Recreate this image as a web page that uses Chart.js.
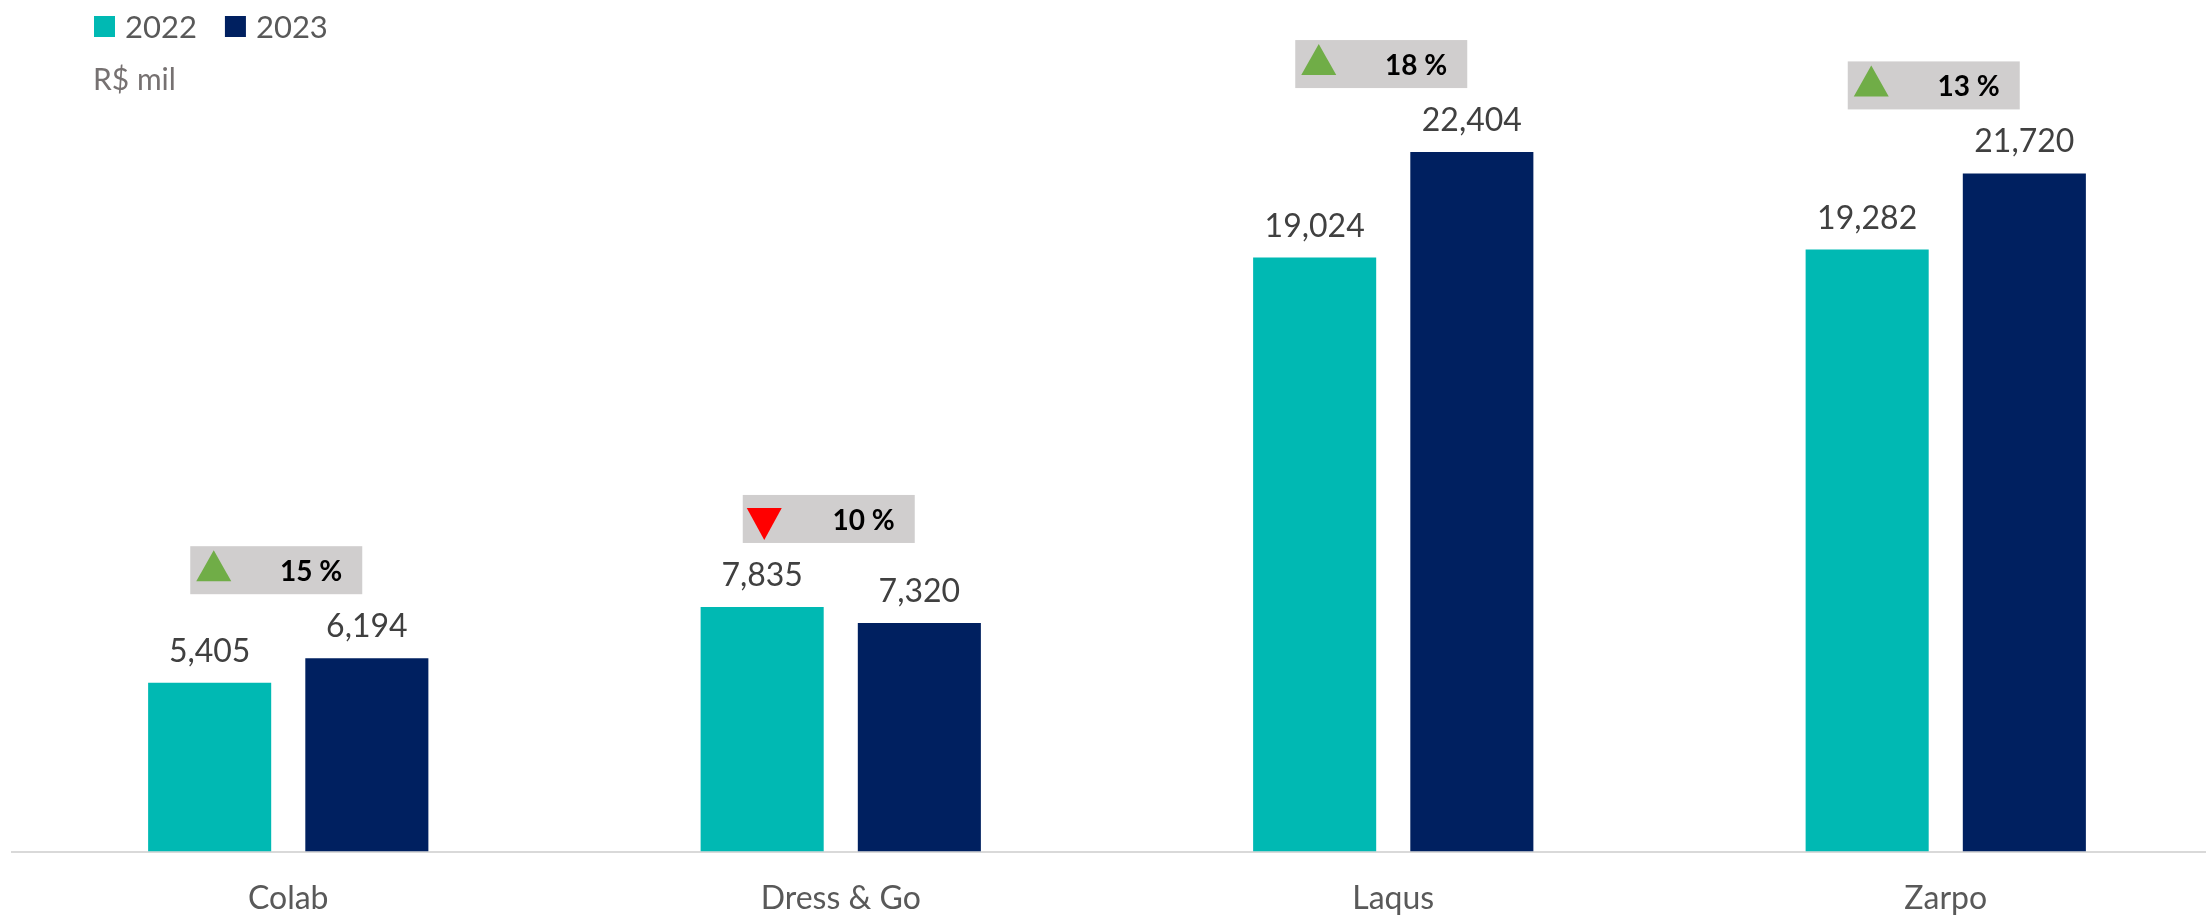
<!DOCTYPE html>
<html>
<head>
<meta charset="utf-8">
<script src="https://cdn.jsdelivr.net/npm/chart.js@4/dist/chart.umd.min.js"></script>
<style>
  html, body { margin: 0; padding: 0; background: #fff; overflow: hidden; }
  #wrap { position: absolute; left: 0; top: 0; width: 2222px; height: 948px; }
</style>
</head>
<body>
<div id="wrap"><canvas id="chart" width="2222" height="948"></canvas></div>
<script>
// data
const categories = ['Colab', 'Dress & Go', 'Laqus', 'Zarpo'];
const seriesNames = ['2022', '2023'];
const values2022 = [5405, 7835, 19024, 19282];
const values2023 = [6194, 7320, 22404, 21720];
const changePct = [15, -10, 18, 13];
const unitLabel = 'R$ mil';

const TEAL = '#00B9B3';
const NAVY = '#002060';
const FONT = 'Lato, "Open Sans", sans-serif';

// labels, badges and legend drawn on top of the bars
const overlay = {
    id: 'overlay',
    afterDatasetsDraw(chart) {
        const ctx = chart.ctx;
        ctx.save();

        // value labels
        ctx.font = '32px ' + FONT;
        ctx.fillStyle = '#404040';
        ctx.textAlign = 'center';
        ctx.textBaseline = 'alphabetic';
        chart.data.datasets.forEach((ds, i) => {
            chart.getDatasetMeta(i).data.forEach((bar, j) => {
                ctx.fillText(ds.data[j].toLocaleString('en-US'), bar.x, bar.y - 21);
            });
        });

        // change badges
        const m0 = chart.getDatasetMeta(0), m1 = chart.getDatasetMeta(1);
        categories.forEach((c, j) => {
            const b0 = m0.data[j], b1 = m1.data[j];
            const top = Math.min(b0.y, b1.y);
            const w = 172, h = 48;
            const x = (b0.x + b1.x) / 2 - 12 - w / 2;
            const y = top - 64 - h;
            ctx.fillStyle = '#D0CECE';
            ctx.fillRect(x, y, w, h);

            ctx.beginPath();
            if (changePct[j] >= 0) {
                ctx.fillStyle = '#70AD47';
                ctx.moveTo(x + 6, y + 35);
                ctx.lineTo(x + 41, y + 35);
                ctx.lineTo(x + 23.5, y + 4);
            } else {
                ctx.fillStyle = '#FF0000';
                ctx.moveTo(x + 4, y + 13);
                ctx.lineTo(x + 39, y + 13);
                ctx.lineTo(x + 21.5, y + 45);
            }
            ctx.closePath();
            ctx.fill();

            ctx.font = 'bold 28px ' + FONT;
            ctx.fillStyle = '#000';
            ctx.textAlign = 'right';
            ctx.fillText(Math.abs(changePct[j]) + ' %', x + w - 20, y + 35);
        });

        // legend
        ctx.font = '31px ' + FONT;
        ctx.textAlign = 'left';
        let lx = 94;
        [TEAL, NAVY].forEach((col, i) => {
            ctx.fillStyle = col;
            ctx.fillRect(lx, 16, 21, 21);
            ctx.fillStyle = '#595959';
            ctx.fillText(seriesNames[i], lx + 31, 38);
            lx += 31 + ctx.measureText(seriesNames[i]).width + 28;
        });

        // unit
        ctx.font = '30px ' + FONT;
        ctx.fillStyle = '#767171';
        ctx.fillText(unitLabel, 93, 90);

        ctx.restore();
    }
};

new Chart(document.getElementById('chart'), {
    type: 'bar',
    data: {
        labels: categories,
        datasets: [
            { label: seriesNames[0], data: values2022, backgroundColor: TEAL },
            { label: seriesNames[1], data: values2023, backgroundColor: NAVY }
        ]
    },
    options: {
        responsive: false,
        animation: false,
        categoryPercentage: 0.569,
        barPercentage: 0.783,
        layout: { padding: { top: 71, bottom: 10, left: 12, right: 0 } },
        scales: {
            x: {
                grid: { display: false },
                border: { display: true, color: '#D9D9D9', width: 2 },
                ticks: { color: '#595959', font: { family: FONT, size: 32 }, padding: 20 }
            },
            y: {
                display: false,
                min: 0,
                max: 25000
            }
        },
        plugins: { legend: { display: false }, tooltip: { enabled: false } }
    },
    plugins: [overlay]
});
</script>
</body>
</html>
